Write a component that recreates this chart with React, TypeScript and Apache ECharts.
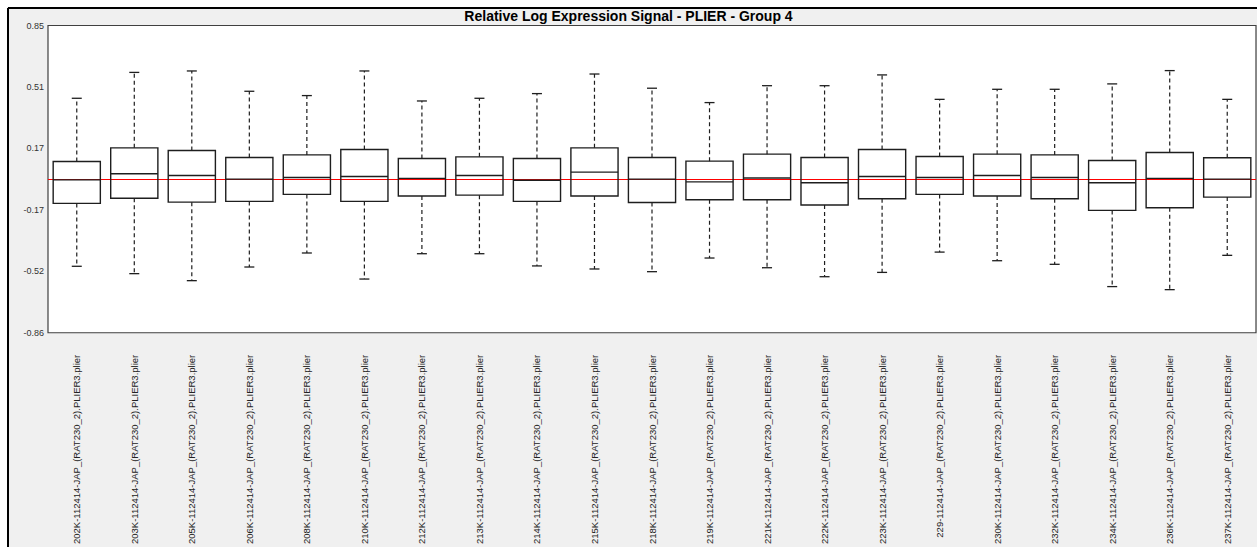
import React, { useEffect, useRef } from "react";
import * as echarts from "echarts";

const categories = [
  "202K-112414-JAP_(RAT230_2).PLIER3.plier",
  "203K-112414-JAP_(RAT230_2).PLIER3.plier",
  "205K-112414-JAP_(RAT230_2).PLIER3.plier",
  "206K-112414-JAP_(RAT230_2).PLIER3.plier",
  "208K-112414-JAP_(RAT230_2).PLIER3.plier",
  "210K-112414-JAP_(RAT230_2).PLIER3.plier",
  "212K-112414-JAP_(RAT230_2).PLIER3.plier",
  "213K-112414-JAP_(RAT230_2).PLIER3.plier",
  "214K-112414-JAP_(RAT230_2).PLIER3.plier",
  "215K-112414-JAP_(RAT230_2).PLIER3.plier",
  "218K-112414-JAP_(RAT230_2).PLIER3.plier",
  "219K-112414-JAP_(RAT230_2).PLIER3.plier",
  "221K-112414-JAP_(RAT230_2).PLIER3.plier",
  "222K-112414-JAP_(RAT230_2).PLIER3.plier",
  "223K-112414-JAP_(RAT230_2).PLIER3.plier",
  "229-112414-JAP_(RAT230_2).PLIER3.plier",
  "230K-112414-JAP_(RAT230_2).PLIER3.plier",
  "232K-112414-JAP_(RAT230_2).PLIER3.plier",
  "234K-112414-JAP_(RAT230_2).PLIER3.plier",
  "236K-112414-JAP_(RAT230_2).PLIER3.plier",
  "237K-112414-JAP_(RAT230_2).PLIER3.plier",
];

const whiskerLow = [-0.485, -0.526, -0.565, -0.489, -0.411, -0.556, -0.415, -0.415, -0.483, -0.5, -0.515, -0.439, -0.493, -0.543, -0.519, -0.406, -0.454, -0.474, -0.598, -0.615, -0.424];
const quartile1 = [-0.135, -0.106, -0.128, -0.124, -0.085, -0.124, -0.094, -0.089, -0.124, -0.094, -0.13, -0.115, -0.115, -0.144, -0.109, -0.085, -0.094, -0.109, -0.174, -0.159, -0.1];
const medians = [-0.004, 0.03, 0.02, 0.0, 0.009, 0.015, 0.004, 0.02, -0.006, 0.039, 0.0, -0.015, 0.006, -0.02, 0.015, 0.009, 0.02, 0.009, -0.02, 0.004, 0.0];
const quartile3 = [0.098, 0.174, 0.159, 0.12, 0.135, 0.165, 0.115, 0.124, 0.115, 0.174, 0.12, 0.1, 0.139, 0.12, 0.165, 0.126, 0.139, 0.135, 0.104, 0.148, 0.119];
const whiskerHigh = [0.45, 0.594, 0.602, 0.489, 0.465, 0.602, 0.435, 0.45, 0.476, 0.585, 0.506, 0.426, 0.52, 0.52, 0.58, 0.444, 0.5, 0.5, 0.53, 0.604, 0.444];

const referenceLevel = 0;

const yTickValues = [-0.855, -0.513, -0.171, 0.171, 0.513, 0.855];
const yTickLabels = ["-0.86", "-0.52", "-0.17", "0.17", "0.51", "0.85"];

const titleText = "Relative Log Expression Signal - PLIER - Group 4";

export default function App() {
  const ref = useRef<HTMLDivElement>(null);

  useEffect(() => {
    if (!ref.current) return;
    const chart = echarts.init(ref.current, null, { renderer: "svg" });
    const data = categories.map((_, i) => [
      i,
      whiskerLow[i],
      quartile1[i],
      medians[i],
      quartile3[i],
      whiskerHigh[i],
    ]);
    const stroke = "#1e1e1e";
    const option: any = {
      animation: false,
      backgroundColor: "#f0f0f0",
      title: {
        text: titleText,
        left: "center",
        top: 9,
        padding: 0,
        textStyle: {
          fontFamily: "Liberation Sans, Arial, sans-serif",
          fontSize: 14,
          fontWeight: "bold",
          color: "#000",
        },
      },
      graphic: [
        { type: "rect", shape: { x: 0, y: 0, width: 1257, height: 7 }, style: { fill: "#fff" }, silent: true },
        { type: "rect", shape: { x: 0, y: 0, width: 7, height: 547 }, style: { fill: "#fff" }, silent: true },
        { type: "line", shape: { x1: 8, y1: 8, x2: 8, y2: 547 }, style: { stroke: "#000", lineWidth: 2 }, silent: true },
        { type: "line", shape: { x1: 8, y1: 8, x2: 1257, y2: 8 }, style: { stroke: "#000", lineWidth: 2 }, silent: true },
      ],
      grid: {
        left: 48,
        right: 1,
        top: 25.5,
        bottom: 214,
        show: true,
        backgroundColor: "#fff",
        borderColor: "#404040",
        borderWidth: 1.2,
        containLabel: false,
      },
      xAxis: {
        type: "category",
        data: categories,
        boundaryGap: true,
        axisLine: { show: false },
        axisTick: { show: false },
        splitLine: { show: false },
        axisLabel: {
          interval: 0,
          rotate: 90,
          margin: 22,
          fontSize: 9.5,
          fontFamily: "Liberation Sans, Arial, sans-serif",
          color: "#222",
        },
      },
      yAxis: {
        type: "value",
        min: -0.855,
        max: 0.855,
        axisLine: { show: false },
        axisTick: { show: false },
        splitLine: { show: false },
        axisLabel: {
          customValues: yTickValues,
          showMinLabel: true,
          showMaxLabel: true,
          margin: 4,
          fontSize: 9,
          fontFamily: "Liberation Sans, Arial, sans-serif",
          color: "#333",
          formatter: (v: number) => {
            let best = 0;
            for (let k = 0; k < yTickValues.length; k++) {
              if (Math.abs(yTickValues[k] - v) < Math.abs(yTickValues[best] - v)) best = k;
            }
            return yTickLabels[best];
          },
        },
      },
      series: [
        {
          type: "line",
          data: [],
          silent: true,
          z: 1,
          markLine: {
            silent: true,
            symbol: ["none", "none"],
            label: { show: false },
            lineStyle: { color: "#ff0000", type: "solid", width: 1, opacity: 1 },
            emphasis: { disabled: true },
            data: [{ yAxis: referenceLevel }],
          },
        },
        {
          type: "custom",
          data,
          encode: { x: 0, y: [1, 2, 3, 4, 5] },
          z: 5,
          renderItem: (params: any, api: any) => {
            const i = api.value(0);
            const pLow = api.coord([i, api.value(1)]);
            const pQ1 = api.coord([i, api.value(2)]);
            const pMed = api.coord([i, api.value(3)]);
            const pQ3 = api.coord([i, api.value(4)]);
            const pHigh = api.coord([i, api.value(5)]);
            const x = pMed[0];
            const w = api.size([1, 0])[0] * 0.82;
            const cap = 5;
            const lw = 1.4;
            return {
              type: "group",
              children: [
                {
                  type: "line",
                  shape: { x1: x, y1: pQ3[1], x2: x, y2: pHigh[1] },
                  style: { stroke: stroke, lineWidth: 1.2, lineDash: [4, 3] },
                },
                {
                  type: "line",
                  shape: { x1: x, y1: pQ1[1], x2: x, y2: pLow[1] },
                  style: { stroke: stroke, lineWidth: 1.2, lineDash: [4, 3] },
                },
                {
                  type: "line",
                  shape: { x1: x - cap, y1: pHigh[1], x2: x + cap, y2: pHigh[1] },
                  style: { stroke: stroke, lineWidth: 1.3 },
                },
                {
                  type: "line",
                  shape: { x1: x - cap, y1: pLow[1], x2: x + cap, y2: pLow[1] },
                  style: { stroke: stroke, lineWidth: 1.3 },
                },
                {
                  type: "rect",
                  shape: { x: x - w / 2, y: pQ3[1], width: w, height: pQ1[1] - pQ3[1] },
                  style: { fill: "none", stroke: stroke, lineWidth: lw },
                },
                {
                  type: "line",
                  shape: { x1: x - w / 2, y1: pMed[1], x2: x + w / 2, y2: pMed[1] },
                  style: { stroke: stroke, lineWidth: lw },
                },
              ],
            };
          },
        },
      ],
    };
    chart.setOption(option);
    return () => chart.dispose();
  }, []);

  return (
    <div
      ref={ref}
      style={{ position: "absolute", left: 0, top: 0, width: 1257, height: 547 }}
    />
  );
}
